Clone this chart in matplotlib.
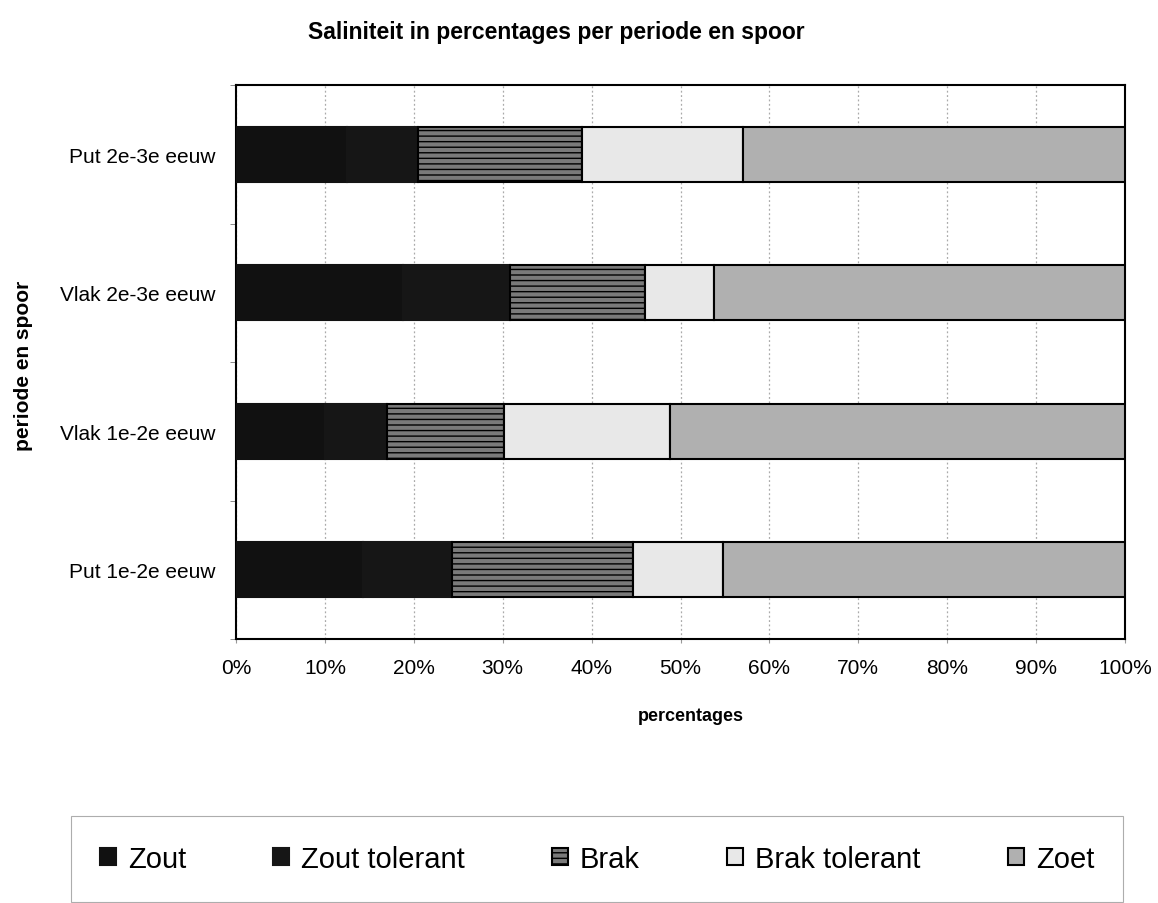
import matplotlib
matplotlib.use("Agg")
import matplotlib.pyplot as plt
import numpy as np
from matplotlib.ticker import FuncFormatter, MultipleLocator

plt.rcParams['font.family'] = ['Liberation Sans', 'DejaVu Sans']

# data (percentages, bottom to top)
categories = ["Put 1e-2e eeuw", "Vlak 1e-2e eeuw", "Vlak 2e-3e eeuw", "Put 2e-3e eeuw"]
series_names = ["Zout", "Zout tolerant", "Brak", "Brak tolerant", "Zoet"]
zout = [14.3, 10.0, 18.8, 12.5]
zout_tolerant = [10.0, 7.0, 12.0, 8.0]
brak = [20.4, 13.1, 15.2, 18.4]
brak_tolerant = [10.1, 18.7, 7.8, 18.1]
zoet = [45.2, 51.2, 46.2, 43.0]

colors = ["#111111", "#161616", "#7a7a7a", "#e8e8e8", "#b0b0b0"]
edges = ["#111111", "#161616", "black", "black", "black"]
hatches = [None, None, "---", None, None]

W, H = 1158, 904
fig = plt.figure(figsize=(W / 100, H / 100), dpi=100)
ax = fig.add_axes([236 / W, 1 - 640 / H, (1125 - 236) / W, (640 - 86) / H])

y = np.arange(len(categories))
left = np.zeros(len(categories))
handles = []
for name, vals, col, ec, hat in zip(series_names, [zout, zout_tolerant, brak, brak_tolerant, zoet],
                                    colors, edges, hatches):
    bars = ax.barh(y, vals, left=left, height=0.4, color=col, edgecolor=ec,
                   linewidth=1.5, hatch=hat, label=name, zorder=3)
    left += np.array(vals)
    handles.append(bars)

ax.set_xlim(0, 100)
ax.set_ylim(-0.5, len(categories) - 0.5)
ax.xaxis.set_major_locator(MultipleLocator(10))
ax.xaxis.set_major_formatter(FuncFormatter(lambda v, p: f"{int(v)}%"))
ax.grid(axis="x", color="#aaaaaa", linestyle=(0, (1.5, 2)), linewidth=0.9, zorder=0)

ax.set_yticks(y)
ax.set_yticklabels(categories)
ax.set_yticks(np.arange(-0.5, len(categories)), minor=True)
ax.tick_params(axis="y", which="major", length=0, pad=15, labelsize=15)
ax.tick_params(axis="y", which="minor", length=4, color="#777777")
ax.tick_params(axis="x", length=3, color="#999999", pad=11, labelsize=15)

for s in ax.spines.values():
    s.set_color("black")
    s.set_linewidth(1.5)

ax.set_xlabel("percentages", fontsize=13, fontweight="bold")
ax.xaxis.set_label_coords((691 - 236) / 889, (640 - 708) / 554)
ax.set_ylabel("periode en spoor", fontsize=15, fontweight="bold")
ax.yaxis.set_label_coords((33 - 236) / 889, (640 - 366) / 554)
fig.text(556 / W, 1 - 32 / H, "Saliniteit in percentages per periode en spoor",
         ha="center", va="center", fontsize=16.5, fontweight="bold")

leg = fig.legend(handles=handles, labels=series_names, loc="center",
                 bbox_to_anchor=(597 / W, 1 - 860 / H), ncol=5, fontsize=21,
                 frameon=True, fancybox=False, edgecolor="#999999",
                 handlelength=0.55, handleheight=0.55, handletextpad=0.4,
                 columnspacing=3.0, borderpad=1.0, borderaxespad=0)
leg.get_frame().set_linewidth(0.8)

fig.savefig("out.png", dpi=100)
